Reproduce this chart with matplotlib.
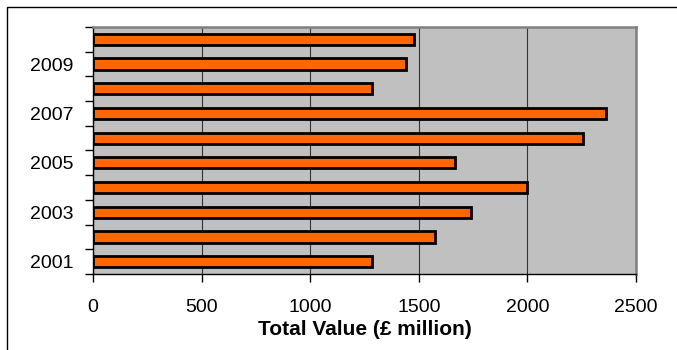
import matplotlib
matplotlib.use("Agg")
import matplotlib.pyplot as plt
from matplotlib.patches import Rectangle

years = [2001, 2002, 2003, 2004, 2005, 2006, 2007, 2008, 2009, 2010]
values = [1285, 1575, 1740, 2000, 1665, 2255, 2360, 1285, 1440, 1478]
year_labels = ["2001", "", "2003", "", "2005", "", "2007", "", "2009", ""]
x_ticks = [0, 500, 1000, 1500, 2000, 2500]

plt.rcParams['font.family'] = ['Liberation Sans', 'DejaVu Sans']

W, H = 677, 350
fig = plt.figure(figsize=(W / 100, H / 100), dpi=100)
fig.patch.set_facecolor('white')

ax = fig.add_axes([93 / W, (H - 274) / H, 543 / W, 247 / H])
ax.set_facecolor('#C0C0C0')

pos = list(range(len(years)))
ax.barh(pos, values, height=0.45, color='#FF6600', edgecolor='black',
        linewidth=2.0, zorder=3)

ax.set_xlim(0, 2500)
ax.set_ylim(-0.5, len(years) - 0.5)

ax.set_xticks(x_ticks)
ax.set_xticklabels([str(t) for t in x_ticks], fontsize=14)
ax.xaxis.grid(True, color='#333333', linewidth=0.8, zorder=1)
ax.set_axisbelow(True)

# y major ticks between categories (no labels), labels at category centers
ax.set_yticks([p - 0.5 for p in range(len(years) + 1)])
ax.set_yticklabels([])
ax.set_yticks(pos, minor=True)
ax.set_yticklabels(year_labels, minor=True, fontsize=14)
ax.tick_params(axis='y', which='minor', length=0, pad=14)
ax.tick_params(axis='y', which='major', length=6, width=1, color='black', direction='out')
ax.tick_params(axis='x', which='major', length=6, width=1, color='black', direction='out', pad=12)

for side in ['top', 'right']:
    ax.spines[side].set_color('#808080')
    ax.spines[side].set_linewidth(1.8)
ax.spines['left'].set_color('black')
ax.spines['left'].set_linewidth(1.0)
ax.spines['bottom'].set_color('black')
ax.spines['bottom'].set_linewidth(1.0)

ax.set_xlabel('Total Value (£ million)', fontsize=15, fontweight='bold', labelpad=3)

fig.add_artist(Rectangle((7 / W, -0.1), 1.0, (H - 7) / H + 0.1,
                         transform=fig.transFigure, fill=False,
                         edgecolor='black', linewidth=1.0))

fig.savefig('out.png', dpi=100)
